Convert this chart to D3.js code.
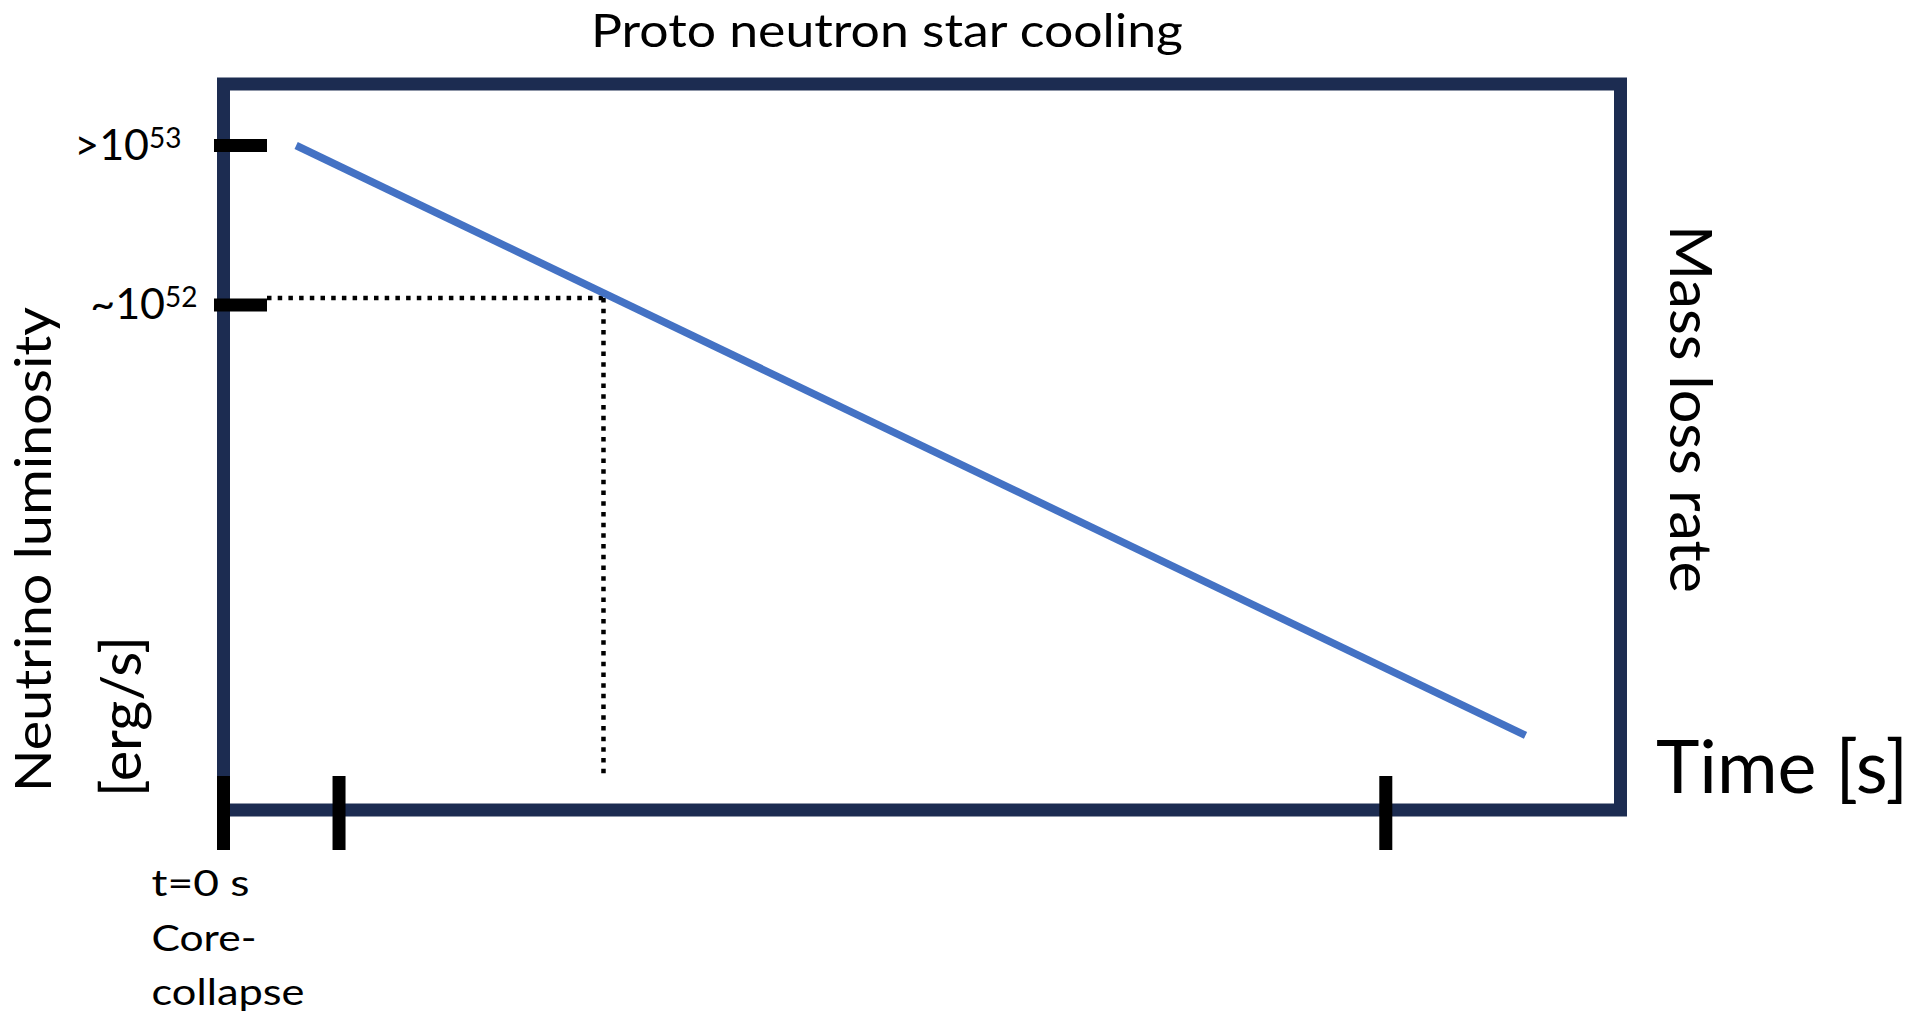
<!DOCTYPE html>
<html>
<head>
<meta charset="utf-8">
<title>Proto neutron star cooling</title>
<script src="https://cdn.jsdelivr.net/npm/d3@7"></script>
<style>
  html, body { margin: 0; padding: 0; background: #ffffff; }
  svg { display: block; }
  text { font-family: Lato, "Noto Sans", sans-serif; fill: #000000; }
</style>
</head>
<body>
<svg id="chart" width="1918" height="1023"></svg>
<script>
// Luminosity falls off with time after core collapse (schematic).
const timeValues = [5.2, 93.2];              // arbitrary time units
const luminosityValues = [1e53, 2.0e49];     // erg/s

// Reference guide: luminosity ~1e52 reached at this time.
const guideTime = 27.2;
const guideLuminosity = 1.107e52;

// Axis ticks
const yTickValues = [1e53, 1e52];
const yTickPrefixes = [">", "~"];
const yTickBases = ["10", "10"];
const yTickExponents = ["53", "52"];
const xTickValues = [0, 8.27, 83.2];
const xStartLabelLines = ["t=0 s", "Core-", "collapse"];

const titleText = "Proto neutron star cooling";
const yTitleLines = ["Neutrino luminosity", "[erg/s]"];
const xTitleText = "Time [s]";
const rightTitleText = "Mass loss rate";

const frameColor = "#1c2c51";
const lineColor = "#4472c4";

const svg = d3.select("#chart");

const x = d3.scaleLinear().domain([0, 100]).range([223.5, 1620.5]);
const y = d3.scaleLog().domain([6.82e48, 2.43e53]).range([810, 84]);

const x0 = x(0), x1 = x(100);
const yBottom = y.range()[0], yTop = y.range()[1];

// Frame
svg.append("rect")
  .attr("x", x0).attr("y", yTop)
  .attr("width", x1 - x0).attr("height", yBottom - yTop)
  .attr("fill", "none")
  .attr("stroke", frameColor)
  .attr("stroke-width", 13)
  .attr("stroke-linejoin", "miter");

// Dotted guide lines to the curve
const leftTickEnd = x0 + 43.5;
const bottomTickTop = yBottom - 33;
const guide = svg.append("g")
  .attr("stroke", "#000")
  .attr("stroke-width", 4.5)
  .attr("stroke-dasharray", "4.5 6.2")
  .attr("fill", "none");
guide.append("line")
  .attr("x1", leftTickEnd).attr("x2", x(guideTime) + 2)
  .attr("y1", y(guideLuminosity)).attr("y2", y(guideLuminosity));
guide.append("line")
  .attr("x1", x(guideTime)).attr("x2", x(guideTime))
  .attr("y1", y(guideLuminosity)).attr("y2", bottomTickTop);

// Luminosity curve
const series = timeValues.map((t, i) => ({ t, L: luminosityValues[i] }));
svg.append("path")
  .datum(series)
  .attr("fill", "none")
  .attr("stroke", lineColor)
  .attr("stroke-width", 7.5)
  .attr("stroke-linecap", "butt")
  .attr("d", d3.line().x(d => x(d.t)).y(d => y(d.L)));

// Y ticks
svg.append("g").selectAll("line")
  .data(yTickValues)
  .join("line")
  .attr("x1", x0 - 9.5).attr("x2", leftTickEnd)
  .attr("y1", d => y(d)).attr("y2", d => y(d))
  .attr("stroke", "#000")
  .attr("stroke-width", 13);

// Y tick labels with superscript exponents
const yLabels = svg.append("g").selectAll("text")
  .data(yTickValues)
  .join("text")
  .attr("x", (d, i) => x0 - (i === 0 ? 42 : 26))
  .attr("y", d => y(d) + 14)
  .attr("text-anchor", "end")
  .style("font-size", "43px");
yLabels.append("tspan").text((d, i) => yTickPrefixes[i] + yTickBases[i]);
yLabels.append("tspan")
  .attr("dy", -12)
  .style("font-size", "28px")
  .text((d, i) => yTickExponents[i]);

// X ticks
svg.append("g").selectAll("line")
  .data(xTickValues)
  .join("line")
  .attr("x1", d => x(d)).attr("x2", d => x(d))
  .attr("y1", yBottom - 34).attr("y2", yBottom + 40)
  .attr("stroke", "#000")
  .attr("stroke-width", 13);

// Label under t = 0
const startLengths = [98, 105, 153];
svg.append("g").selectAll("text")
  .data(xStartLabelLines)
  .join("text")
  .attr("x", x(xTickValues[0]) - 72)
  .attr("y", (d, i) => 896 + i * 54.5)
  .attr("textLength", (d, i) => startLengths[i])
  .attr("lengthAdjust", "spacingAndGlyphs")
  .style("font-size", "37px")
  .text(d => d);

// Title
svg.append("text")
  .attr("x", 591).attr("y", 47)
  .attr("textLength", 592)
  .attr("lengthAdjust", "spacingAndGlyphs")
  .style("font-size", "46px")
  .text(titleText);

// Left axis title (two lines, rotated)
svg.append("text")
  .attr("transform", `translate(51,792) rotate(-90)`)
  .attr("textLength", 485)
  .attr("lengthAdjust", "spacingAndGlyphs")
  .style("font-size", "50px")
  .text(yTitleLines[0]);
svg.append("text")
  .attr("transform", `translate(141,797) rotate(-90)`)
  .attr("textLength", 161)
  .attr("lengthAdjust", "spacingAndGlyphs")
  .style("font-size", "56px")
  .text(yTitleLines[1]);

// Right-hand title
svg.append("text")
  .attr("transform", `translate(1670,225) rotate(90)`)
  .attr("textLength", 368)
  .attr("lengthAdjust", "spacingAndGlyphs")
  .style("font-size", "58px")
  .text(rightTitleText);

// Time axis title
svg.append("text")
  .attr("x", 1656).attr("y", 793)
  .attr("textLength", 252)
  .attr("lengthAdjust", "spacingAndGlyphs")
  .style("font-size", "74px")
  .text(xTitleText);
</script>
</body>
</html>
